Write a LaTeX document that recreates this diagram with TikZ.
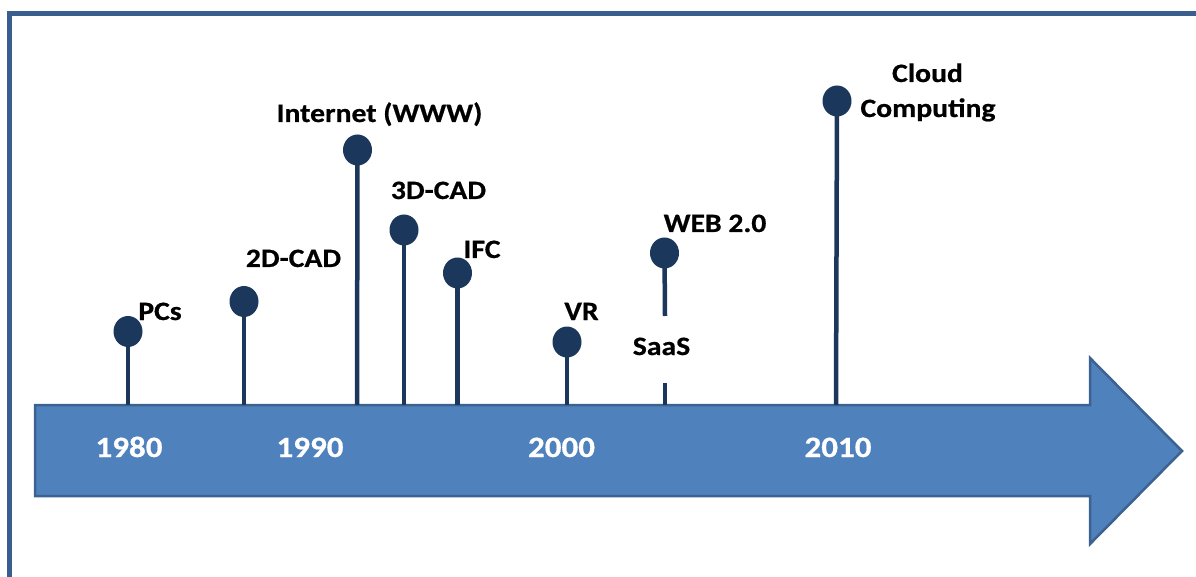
\documentclass[tikz,border=0pt]{standalone}
\usepackage{fontspec}
\setmainfont{Carlito}[FakeStretch=1.12, BoldFeatures={FakeBold=0.6}]
\usetikzlibrary{shapes.geometric,backgrounds}
\definecolor{arrowfill}{HTML}{4F81BD}
\definecolor{arrowline}{HTML}{3B6290}
\definecolor{frameblue}{HTML}{3A5F8E}
\definecolor{pin}{HTML}{1B375C}
\begin{document}
\begin{tikzpicture}[x=1pt,y=-1pt,
  dot/.style={ellipse, fill=pin, minimum width=29pt, minimum height=31pt, inner sep=0pt},
  stem/.style={draw=pin, line width=4.5pt},
  lbl/.style={font=\fontsize{26.5}{30}\selectfont\bfseries, inner sep=0pt, text=black, anchor=base},
  yr/.style={font=\fontsize{29.5}{32}\selectfont\bfseries, text=white, inner sep=0pt, anchor=base}]
\useasboundingbox (0,0) rectangle (1196,577);
% base coordinates on arrow
\coordinate (bPC) at (128,405);
\coordinate (b2D) at (244,405);
\coordinate (bNet) at (357,405);
\coordinate (b3D) at (404,405);
\coordinate (bIFC) at (457.5,405);
\coordinate (bVR) at (567,405);
\coordinate (bWEB) at (665,405);
\coordinate (sWEBa) at (665,316);
\coordinate (sWEBb) at (665,383);
\coordinate (bCloud) at (836,405);
% pins
\node[dot] (dPC) at (128,331.5) {};
\node[dot] (d2D) at (244,301.5) {};
\node[dot] (dNet) at (357.5,150) {};
\node[dot] (d3D) at (404,230) {};
\node[dot] (dIFC) at (457.5,273) {};
\node[dot] (dVR) at (567,342) {};
\node[dot] (dWEB) at (664.5,253) {};
\node[dot] (dCloud) at (837,101) {};
\begin{scope}[on background layer]
% frame
\draw[frameblue, line width=4.5pt] (9.5,600) -- (9.5,13.5) -- (1220,13.5);
% timeline arrow
\draw[fill=arrowfill, draw=arrowline, line width=2.5pt, line join=miter]
  (35,405) -- (1090,405) -- (1090,358) -- (1182,451) -- (1090,544) -- (1090,496) -- (35,496) -- cycle;
% stems
\draw[stem] (dPC.center) -- (bPC);
\draw[stem] (d2D.center) -- (b2D);
\draw[stem] (dNet.center) -- (bNet);
\draw[stem] (d3D.center) -- (b3D);
\draw[stem] (dIFC.center) -- (bIFC);
\draw[stem] (dVR.center) -- (bVR);
\draw[stem] (dWEB.center) -- (sWEBa);
\draw[stem] (sWEBb) -- (bWEB);
\draw[stem] (dCloud.center) -- (bCloud);
\end{scope}
% labels
\node[lbl] (tPC) at (160,320) {PCs};
\node[lbl] (t2D) at (293.5,267) {2D-CAD};
\node[lbl] (tNet) at (379.5,122) {Internet (WWW)};
\node[lbl] (t3D) at (438.5,199) {3D-CAD};
\node[lbl] (tIFC) at (482,258) {IFC};
\node[lbl] (tVR) at (581.5,320) {VR};
\node[lbl] (tWEB) at (715,232) {WEB 2.0};
\node[lbl] (tSaaS) at (661.5,355) {SaaS};
\node[lbl] (tCloud) at (927.5,82) {Cloud};
\node[lbl] (tComp) at (928,117) {Computing};
% years
\node[yr] (y1980) at (129,457) {1980};
\node[yr] (y1990) at (310,457) {1990};
\node[yr] (y2000) at (561.5,457) {2000};
\node[yr] (y2010) at (838,457) {2010};
\end{tikzpicture}
\end{document}
